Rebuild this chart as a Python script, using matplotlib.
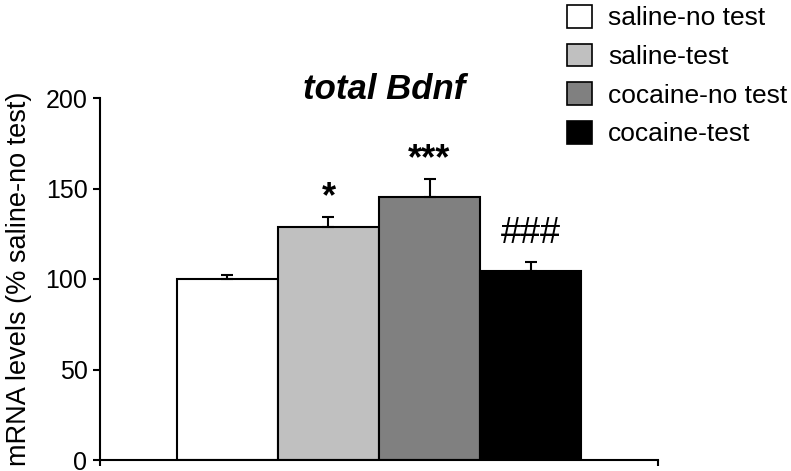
import matplotlib.pyplot as plt
from matplotlib.patches import Patch

# data
groups = ["saline-no test", "saline-test", "cocaine-no test", "cocaine-test"]
means = [100, 128.5, 145.5, 104.5]
sems = [2, 6, 10, 5]
colors = ["white", "#c0c0c0", "#808080", "black"]
marks = ["", "*", "***", "###"]
mark_y = [0, 139.5, 160.5, 120]   # baseline of the significance marks
yticks = [0, 50, 100, 150, 200]

plt.rcParams["font.family"] = ["Liberation Sans", "DejaVu Sans"]

fig = plt.figure(figsize=(7.91, 4.71), dpi=100)
ax = fig.add_axes([100 / 791, 1 - 460 / 471, 558 / 791, 362 / 471])

x = range(len(groups))
lower = [0] * len(sems)
ax.bar(x, means, width=1.0, color=colors, edgecolor="black", linewidth=1.5,
       yerr=[lower, sems], error_kw=dict(ecolor="black", elinewidth=1.5, capsize=4, capthick=1.5))

# significance marks above the bars
for i, (t, yy) in enumerate(zip(marks, mark_y)):
    if t.startswith("*"):
        ax.text(i, yy, t, ha="center", va="baseline", fontsize=26, fontweight="bold")
    elif t:
        ax.text(i, yy, t, ha="center", va="baseline", fontsize=26)

ax.set_xlim(-1.262, 4.262)
ax.set_ylim(0, 200)
ax.set_yticks(yticks)
ax.set_xticks([-1.262, 4.262])
ax.set_xticklabels([])
ax.tick_params(axis="y", direction="out", length=5, width=1.5, labelsize=18, pad=4)
ax.tick_params(axis="x", direction="out", length=4, width=1.5)
ax.spines["top"].set_visible(False)
ax.spines["right"].set_visible(False)
ax.spines["left"].set_linewidth(1.5)
ax.spines["bottom"].set_linewidth(1.5)
ax.set_ylabel("mRNA levels (% saline-no test)", fontsize=19.5, labelpad=10)

# title placed just above the plot area
ax.text(0.51, 0.997, "total Bdnf", transform=ax.transAxes, ha="center", va="baseline",
        fontsize=25, fontweight="bold", fontstyle="italic")

handles = [Patch(facecolor=c, edgecolor="black", linewidth=1.2) for c in colors]
fig.legend(handles, groups, loc="upper left", bbox_to_anchor=(567 / 791, 1 - 5 / 471), frameon=False,
           fontsize=19, handlelength=0.95, handleheight=0.95, labelspacing=0.5, handletextpad=0.6,
           borderpad=0, borderaxespad=0)

fig.savefig("out.png", dpi=100)
